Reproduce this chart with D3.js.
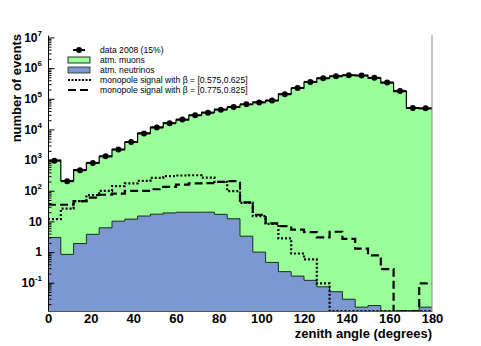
<!DOCTYPE html>
<meta charset="utf-8">
<style>
  body { margin: 0; background: #fff; }
  text { font-family: "Liberation Sans", Arial, sans-serif; }
</style>
<svg width="481" height="346"></svg>
<script src="https://cdn.jsdelivr.net/npm/d3@7"></script>
<script>

  // zenith angle bins (lower edges, degrees), 6 degree wide
  var binLow = [0, 6, 12, 18, 24, 30, 36, 42, 48, 54, 60, 66, 72, 78, 84,
    90, 96, 102, 108, 114, 120, 126, 132, 138, 144, 150, 156, 162, 168, 174];
  var binWidth = 6;

  var dataCounts = [950, 205, 470, 810, 1340, 2200, 3900, 7400, 11500, 16000,
    21000, 29000, 35000, 44000, 54000, 66000, 76000, 87000, 140000, 225000,
    355000, 465000, 540000, 585000, 570000, 480000, 340000, 180000, 50000, 49000];

  var atmMuons = [1000, 215, 480, 800, 1300, 2250, 3800, 7600, 11800, 16500,
    20500, 29000, 36000, 45000, 53000, 65000, 78000, 88000, 145000, 220000,
    350000, 470000, 545000, 590000, 575000, 470000, 330000, 172000, 49000, 48000];

  var atmNeutrinos = [3.0, 0.84, 1.9, 3.8, 6.2, 10.2, 11.9, 15, 17.3, 19,
    20, 20, 20, 17, 12.2, 3.3, 1.0, 0.46, 0.23, 0.165,
    0.12, 0.074, 0.051, 0.029, 0.016, 0.018, 0, 0, 0, 0.016];

  var monoSlow = [11.9, 26, 46, 72, 99, 141, 173, 210, 263, 300,
    315, 320, 268, 195, 97, 40, 15, 8.3, 2.8, 0.9,
    0.58, 0.095, 0, 0, 0, 0, 0, 0, 0, 0];

  var monoFast = [35, 35, 46, 60, 74, 81, 99, 99, 112, 134,
    158, 173, 178, 195, 205, 42, 16.5, 8.6, 7.0, 5.4,
    4.5, 3.0, 4.6, 2.7, 1.3, 0.78, 0.28, 0, 0, 0.095];

  var xTicks = [0, 20, 40, 60, 80, 100, 120, 140, 160, 180];
  var yTicks = [0.1, 1, 10, 100, 1e3, 1e4, 1e5, 1e6, 1e7];

  var legendLabels = ["data 2008 (15%)", "atm. muons", "atm. neutrinos",
    "monopole signal with \u03b2 = [0.575,0.625]",
    "monopole signal with \u03b2 = [0.775,0.825]"];

  var svg = d3.select("svg"),
    margin = {top: 35, right: 49, bottom: 35, left: 48},
    width = +svg.attr("width") - margin.left - margin.right,
    height = +svg.attr("height") - margin.top - margin.bottom,
    g = svg.append("g").attr("transform", "translate(" + margin.left + "," + margin.top + ")");

  var x = d3.scaleLinear().domain([0, 180]).range([0, width]);
  var y = d3.scaleLog().domain([0.012, 1.2e7]).range([height, 0]);
  var yMin = y.domain()[0];

  function steps(values) {
    var pts = values.map(function (v, i) { return {x: binLow[i], v: v}; });
    pts.push({x: binLow[binLow.length - 1] + binWidth, v: values[values.length - 1]});
    return pts;
  }
  function yc(v) { return y(Math.max(v, yMin)); }

  var area = d3.area().curve(d3.curveStepAfter)
    .x(function (d) { return x(d.x); })
    .y0(height)
    .y1(function (d) { return yc(d.v); });

  var line = d3.line().curve(d3.curveStepAfter)
    .x(function (d) { return x(d.x); })
    .y(function (d) { return yc(d.v); });

  // atm. muons
  g.append("path").datum(steps(atmMuons)).attr("fill", "#99ff99").attr("d", area);
  g.append("path").datum(steps(atmMuons)).attr("fill", "none")
    .attr("stroke", "#000").attr("stroke-width", 1.2).attr("d", line);

  // atm. neutrinos
  g.append("path").datum(steps(atmNeutrinos)).attr("fill", "#7b99d0").attr("d", area);
  g.append("path").datum(steps(atmNeutrinos)).attr("fill", "none")
    .attr("stroke", "#1d2a1d").attr("stroke-width", 1).attr("d", line);

  // monopole signals
  g.append("path").datum(steps(monoSlow)).attr("fill", "none")
    .attr("stroke", "#000").attr("stroke-width", 2.2)
    .attr("stroke-dasharray", "2,2").attr("d", line);
  g.append("path").datum(steps(monoFast)).attr("fill", "none")
    .attr("stroke", "#000").attr("stroke-width", 2.2)
    .attr("stroke-dasharray", "8,4").attr("d", line);

  // data points
  var pts = g.append("g").selectAll("g").data(dataCounts).enter().append("g");
  pts.append("line")
    .attr("x1", function (d, i) { return x(binLow[i]); })
    .attr("x2", function (d, i) { return x(binLow[i] + binWidth); })
    .attr("y1", function (d) { return y(d); })
    .attr("y2", function (d) { return y(d); })
    .attr("stroke", "#000").attr("stroke-width", 2);
  pts.append("circle")
    .attr("cx", function (d, i) { return x(binLow[i] + binWidth / 2); })
    .attr("cy", function (d) { return y(d); })
    .attr("r", 3).attr("fill", "#000");

  // frame
  g.append("line").attr("x1", width).attr("x2", width).attr("y1", 0).attr("y2", height)
    .attr("stroke", "#888").attr("stroke-width", 1);

  // x axis
  var xAxis = g.append("g").attr("transform", "translate(0," + height + ")")
    .call(d3.axisBottom(x).tickValues(xTicks).tickSize(0).tickPadding(3).tickFormat(d3.format("d")));
  xAxis.select(".domain").attr("stroke", "#555");
  xAxis.selectAll("text").attr("font-size", 13).attr("font-weight", "bold").attr("fill", "#000")
    .style("font-family", "'Liberation Sans', Arial, sans-serif");

  // y axis: minor ticks
  var minor = [];
  [0.01, 0.1, 1, 10, 100, 1e3, 1e4, 1e5, 1e6].forEach(function (dec) {
    for (var k = 2; k <= 9; k++) {
      var v = dec * k;
      if (v >= y.domain()[0] && v <= y.domain()[1]) minor.push(v);
    }
  });
  g.append("g")
    .call(d3.axisLeft(y).tickValues(minor).tickSizeInner(-3.5).tickSizeOuter(0).tickFormat(""))
    .select(".domain").remove();

  var yAxis = g.append("g")
    .call(d3.axisLeft(y).tickValues(yTicks).tickSizeInner(-6.5).tickSizeOuter(0).tickPadding(6).tickFormat(""));
  yAxis.select(".domain").attr("stroke", "#000");

  yAxis.selectAll(".tick text")
    .attr("font-size", 12).attr("font-weight", "bold").attr("fill", "#000")
    .style("font-family", "'Liberation Sans', Arial, sans-serif")
    .each(function (d) {
      var t = d3.select(this), e = Math.round(Math.log10(d));
      if (e === 0) { t.text("1"); return; }
      if (e === 1) { t.text("10"); return; }
      t.append("tspan").text("10");
      t.append("tspan").attr("dy", -6).attr("font-size", 8).text(e);
    });

  // axis titles
  svg.append("text")
    .attr("x", margin.left + width).attr("y", 338)
    .attr("text-anchor", "end").attr("font-size", 13).attr("font-weight", "bold")
    .text("zenith angle (degrees)");
  svg.append("text")
    .attr("transform", "translate(21," + (margin.top - 1) + ") rotate(-90)")
    .attr("text-anchor", "end").attr("font-size", 13).attr("font-weight", "bold")
    .text("number of events");

  // legend
  var leg = svg.append("g").attr("transform", "translate(68,50)");
  var rows = leg.selectAll("g").data(legendLabels).enter().append("g")
    .attr("transform", function (d, i) { return "translate(0," + i * 10 + ")"; });
  rows.append("text").attr("x", 32).attr("y", 0).attr("dy", "0.35em")
    .attr("font-size", 8.6).attr("fill", "#000").text(function (d) { return d; });

  var r0 = d3.select(rows.nodes()[0]);
  r0.append("line").attr("x1", 5).attr("x2", 17).attr("y1", 0).attr("y2", 0)
    .attr("stroke", "#000").attr("stroke-width", 2);
  r0.append("circle").attr("cx", 11).attr("cy", 0).attr("r", 3).attr("fill", "#000");
  d3.select(rows.nodes()[1]).append("rect").attr("x", 0).attr("y", -3).attr("width", 22).attr("height", 6)
    .attr("fill", "#99ff99").attr("stroke", "#000").attr("stroke-width", 0.8);
  d3.select(rows.nodes()[2]).append("rect").attr("x", 0).attr("y", -3).attr("width", 22).attr("height", 6)
    .attr("fill", "#7b99d0").attr("stroke", "#1d2a1d").attr("stroke-width", 0.8);
  d3.select(rows.nodes()[3]).append("line").attr("x1", 0).attr("x2", 23).attr("y1", 0).attr("y2", 0)
    .attr("stroke", "#000").attr("stroke-width", 2.2).attr("stroke-dasharray", "2,1.5");
  d3.select(rows.nodes()[4]).append("line").attr("x1", 0).attr("x2", 23).attr("y1", 0).attr("y2", 0)
    .attr("stroke", "#000").attr("stroke-width", 2.2).attr("stroke-dasharray", "8,4");

</script>
